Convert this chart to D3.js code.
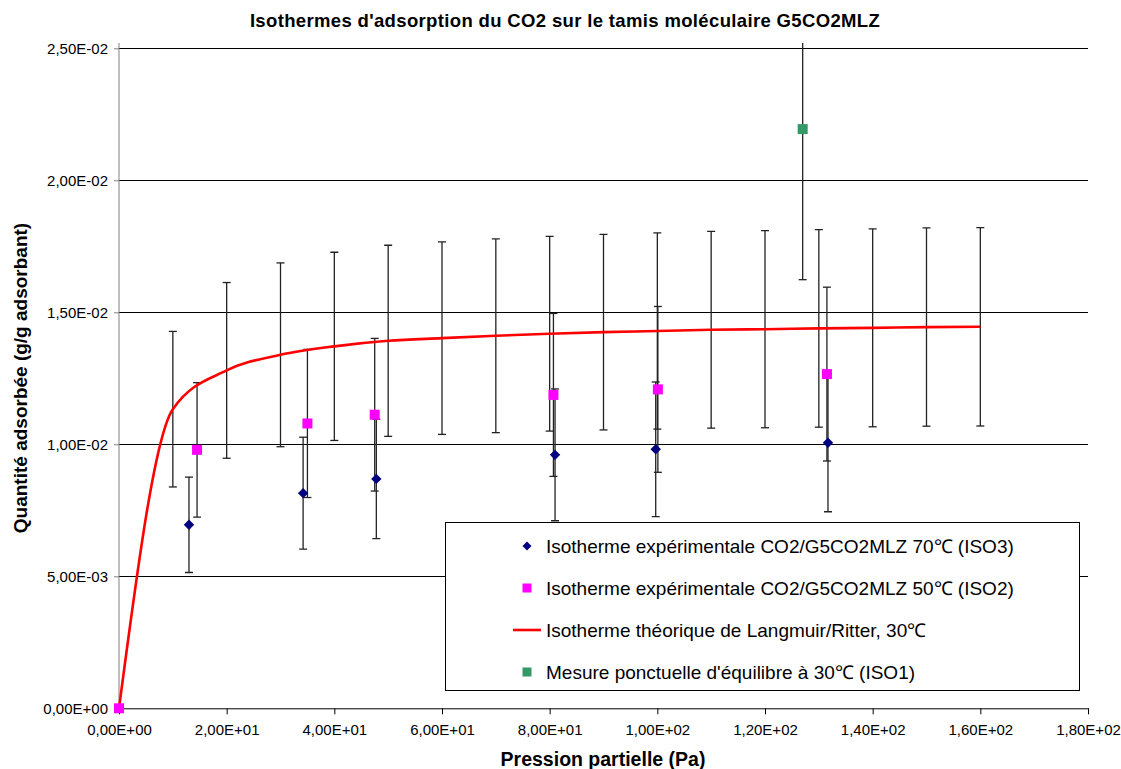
<!DOCTYPE html>
<html>
<head>
<meta charset="utf-8">
<script src="https://cdn.jsdelivr.net/npm/d3@7"></script>
<style>
  html, body { margin: 0; padding: 0; background: #fff; }
  svg { display: block; font-family: "Liberation Sans", Arial, sans-serif; }
</style>
</head>
<body>
<svg id="chart" width="1121" height="769"></svg>
<script>
// ---------------- DATA ----------------
const chartTitle = "Isothermes d'adsorption du CO2 sur le tamis moléculaire G5CO2MLZ";
const xAxisTitle = "Pression partielle (Pa)";
const yAxisTitle = "Quantité adsorbée (g/g adsorbant)";

const xTickValues = [0, 20, 40, 60, 80, 100, 120, 140, 160, 180];
const yTickValues = [0, 0.005, 0.010, 0.015, 0.020, 0.025];

// Isotherme expérimentale 70°C (ISO3)
const iso3P = [13.0, 34.2, 47.8, 81.0, 99.7, 131.7];
const iso3Q = [0.00695, 0.00815, 0.00869, 0.00960, 0.00981, 0.01006];

// Isotherme expérimentale 50°C (ISO2)
const iso2P = [0, 14.5, 35.0, 47.5, 80.7, 100.1, 131.5];
const iso2Q = [0, 0.00979, 0.01079, 0.01112, 0.01187, 0.01208, 0.01266];

// Isotherme théorique Langmuir/Ritter 30°C
const theoryP = [0, 10, 20, 30, 40, 50, 60, 70, 80, 90, 100, 110, 120, 130, 140, 150, 160];
const theoryQ = [0, 0.01133, 0.01280, 0.01339, 0.01371, 0.01392, 0.01402, 0.01411, 0.01419,
                 0.01425, 0.01429, 0.01434, 0.01436, 0.01439, 0.01441, 0.01444, 0.01445];

// Mesure ponctuelle d'équilibre 30°C (ISO1)
const iso1P = [127.0];
const iso1Q = [0.02194];

// percentage error bars (± % of value)
const errorPercent = 26;

const legendLabels = [
  "Isotherme expérimentale CO2/G5CO2MLZ 70\u2103 (ISO3)",
  "Isotherme expérimentale CO2/G5CO2MLZ 50\u2103 (ISO2)",
  "Isotherme théorique de Langmuir/Ritter, 30\u2103",
  "Mesure ponctuelle d'équilibre à 30\u2103 (ISO1)"
];

// ---------------- LAYOUT ----------------
const plot = { left: 119, right: 1088, top: 48.3, bottom: 708.3 };
const colors = { iso3: "#000080", iso2: "#FF00FF", theory: "#FF0000", iso1: "#339966" };
const FONT = "Liberation Sans, Arial, sans-serif";

const svg = d3.select("#chart");

const x = d3.scaleLinear().domain([0, 180]).range([plot.left, plot.right]);
const y = d3.scaleLinear().domain([0, 0.025]).range([plot.bottom, plot.top]);

function sci(v) {
  if (v === 0) return "0,00E+00";
  let e = Math.floor(Math.log10(Math.abs(v)) + 1e-9);
  let m = v / Math.pow(10, e);
  const sign = e < 0 ? "-" : "+";
  const es = String(Math.abs(e)).padStart(2, "0");
  return m.toFixed(2).replace(".", ",") + "E" + sign + es;
}

const zip = (ps, qs) => ps.map((p, i) => ({ p: p, q: qs[i] }));
const iso3 = zip(iso3P, iso3Q);
const iso2 = zip(iso2P, iso2Q);
const theory = zip(theoryP, theoryQ);
const iso1 = zip(iso1P, iso1Q);

// clip
svg.append("defs").append("clipPath").attr("id", "clip")
  .append("rect").attr("x", plot.left - 10).attr("y", 43)
  .attr("width", plot.right - plot.left + 20).attr("height", plot.bottom - 43 + 10);

// gridlines
svg.append("g").selectAll("line").data(yTickValues.filter(v => v > 0)).join("line")
  .attr("x1", plot.left).attr("x2", plot.right)
  .attr("y1", d => y(d)).attr("y2", d => y(d))
  .attr("stroke", "#000").attr("stroke-width", 1).attr("shape-rendering", "crispEdges");

// y axis
const yAxis = d3.axisLeft(y).tickValues(yTickValues).tickFormat(sci).tickSize(5).tickSizeOuter(0);
const gy = svg.append("g").attr("transform", `translate(${plot.left},0)`).call(yAxis);
gy.select(".domain").attr("stroke", "#808080").attr("d", `M0,${plot.bottom}V43`);
gy.selectAll(".tick line").attr("stroke", "#808080");
gy.selectAll(".tick text").attr("font-size", 15).attr("fill", "#000").attr("x", -11)
  .attr("font-family", FONT);

// x axis
const xAxis = d3.axisBottom(x).tickValues(xTickValues).tickFormat(sci).tickSize(6).tickSizeOuter(0);
const gx = svg.append("g").attr("transform", `translate(0,${plot.bottom})`).call(xAxis);
gx.select(".domain").attr("stroke", "#000");
gx.selectAll(".tick line").attr("stroke", "#000");
gx.selectAll(".tick text").attr("font-size", 15).attr("fill", "#000").attr("y", 16).attr("dy", "0.71em")
  .attr("font-family", FONT);

// error bars
const gErr = svg.append("g").attr("clip-path", "url(#clip)");
function errorBars(data) {
  const cap = 4;
  data.forEach(d => {
    if (d.q === 0) return;
    const e = d.q * errorPercent / 100;
    const cx = x(d.p), y1 = y(d.q + e), y2 = y(d.q - e);
    gErr.append("line").attr("x1", cx).attr("x2", cx).attr("y1", y1).attr("y2", y2)
      .attr("stroke", "#222").attr("stroke-width", 1.3);
    [y1, y2].forEach(yy => gErr.append("line")
      .attr("x1", cx - cap).attr("x2", cx + cap).attr("y1", yy).attr("y2", yy)
      .attr("stroke", "#222").attr("stroke-width", 1.3));
  });
}
errorBars(theory.filter(d => d.p > 0));
errorBars(iso3);
errorBars(iso2);
errorBars(iso1);

// theory line
const line = d3.line().x(d => x(d.p)).y(d => y(d.q)).curve(d3.curveMonotoneX);
svg.append("path").datum(theory).attr("d", line)
  .attr("fill", "none").attr("stroke", colors.theory).attr("stroke-width", 2.6);

// markers
const diamond = s => `M0,${-s}L${s},0L0,${s}L${-s},0Z`;
svg.append("g").selectAll("path").data(iso3).join("path")
  .attr("transform", d => `translate(${x(d.p)},${y(d.q)})`)
  .attr("d", diamond(5.2)).attr("fill", colors.iso3);

svg.append("g").selectAll("rect").data(iso2).join("rect")
  .attr("x", d => x(d.p) - 5).attr("y", d => y(d.q) - 5)
  .attr("width", 10).attr("height", 10).attr("fill", colors.iso2);

svg.append("g").selectAll("rect").data(iso1).join("rect")
  .attr("x", d => x(d.p) - 5).attr("y", d => y(d.q) - 5)
  .attr("width", 10).attr("height", 10).attr("fill", colors.iso1);

// title
svg.append("text").attr("x", 565).attr("y", 27).attr("text-anchor", "middle")
  .attr("font-weight", "bold").attr("font-size", 18.5).attr("letter-spacing", 0.35).text(chartTitle);

// axis titles
svg.append("text").attr("x", 603).attr("y", 766).attr("text-anchor", "middle")
  .attr("font-weight", "bold").attr("font-size", 19.5).text(xAxisTitle);
svg.append("text").attr("transform", "translate(27,378) rotate(-90)").attr("text-anchor", "middle")
  .attr("font-weight", "bold").attr("font-size", 19).text(yAxisTitle);

// legend
const lg = svg.append("g");
lg.append("rect").attr("x", 445.5).attr("y", 522.5).attr("width", 634).attr("height", 168)
  .attr("fill", "#fff").attr("stroke", "#000").attr("stroke-width", 1);
const rowY = [546, 588, 630, 672];
legendLabels.forEach((lab, i) => {
  const yy = rowY[i];
  const mx = 527;
  if (i === 0) lg.append("path").attr("transform", `translate(${mx},${yy})`).attr("d", diamond(4.5)).attr("fill", colors.iso3);
  if (i === 1) lg.append("rect").attr("x", mx - 4.5).attr("y", yy - 4.5).attr("width", 9).attr("height", 9).attr("fill", colors.iso2);
  if (i === 2) lg.append("line").attr("x1", mx - 14).attr("x2", mx + 14).attr("y1", yy).attr("y2", yy)
    .attr("stroke", colors.theory).attr("stroke-width", 2.6);
  if (i === 3) lg.append("rect").attr("x", mx - 4.5).attr("y", yy - 4.5).attr("width", 9).attr("height", 9).attr("fill", colors.iso1);
  lg.append("text").attr("x", 546).attr("y", yy + 6.5).attr("font-size", 19).text(lab);
});
</script>
</body>
</html>
